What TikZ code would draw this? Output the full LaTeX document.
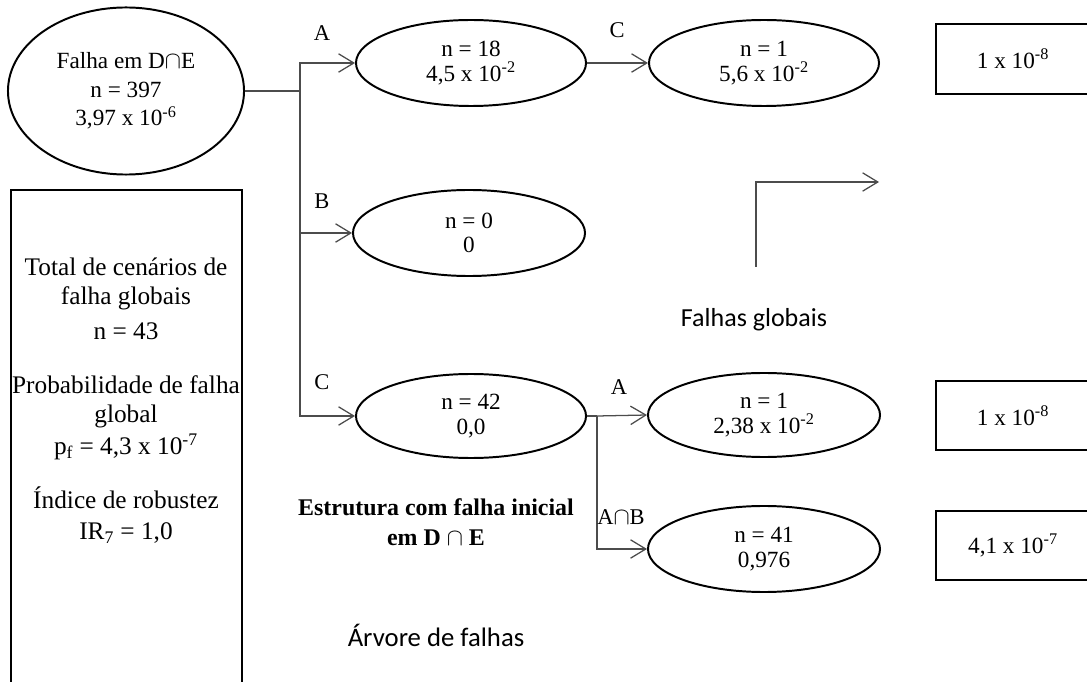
\documentclass[tikz,border=0pt]{standalone}
\usepackage{fontspec}
\setmainfont{Liberation Serif}
\newfontfamily\calibri{Carlito}
\usepackage{tikz}
\usetikzlibrary{shapes.geometric,arrows.meta}
\tikzset{
	falha/.style={ellipse, draw, line width=1.4pt, inner sep=0pt, align=center, font=\fontsize{16.5}{17.4}\selectfont},
	caixa/.style={rectangle, draw, line width=1.4pt, inner sep=0pt, minimum width=3.85cm, font=\fontsize{16.5}{17.4}\selectfont},
	liga/.style={draw=black!70, line width=0.9pt, -{Straight Barb[length=3.8mm,width=4.6mm]}},
	rot/.style={font=\fontsize{16}{18}\selectfont, inner sep=0pt},
}

\begin{document}
\begin{tikzpicture}[x=0.025cm, y=-0.025cm]
			%%%%% START %%%%%
			\useasboundingbox (0, 0) rectangle (1087, 682);
			
			\node[falha, minimum width=5.9cm, minimum height=4.175cm] (raiz) at (126, 91) {Falha em D$\cap$E\\[3pt]n = 397\\[3pt]3,97 x 10\textsuperscript{-6}};
			
			\node[falha, minimum width=5.75cm, minimum height=2.15cm] (nA) at (471, 63) {n = 18\\4,5 x 10\textsuperscript{-2}};
			\node[falha, minimum width=5.75cm, minimum height=2.15cm] (nAC) at (764, 63) {n = 1\\5,6 x 10\textsuperscript{-2}};
			\node[falha, minimum width=5.8cm, minimum height=2.15cm] (nB) at (469, 233) {n = 0\\0};
			\node[falha, minimum width=5.75cm, minimum height=2.1cm] (nC) at (471, 416) {n = 42\\0,0};
			\node[falha, minimum width=5.8cm, minimum height=2.1cm] (nCA) at (764, 415) {n = 1\\2,38 x 10\textsuperscript{-2}};
			\node[falha, minimum width=5.8cm, minimum height=2.15cm] (nCAB) at (764, 549) {n = 41\\0,976};
			
			\node[caixa, minimum height=1.75cm] (pAC) at (1013, 59) {1 x 10\textsuperscript{-8}};
			\node[caixa, minimum height=1.725cm] (pCA) at (1013, 415.5) {1 x 10\textsuperscript{-8}};
			\node[caixa, minimum height=1.725cm] (pCAB) at (1013, 545.5) {4,1 x 10\textsuperscript{-7}};
			
			% ramos da arvore
			\coordinate (j1) at (300, 91);
			\coordinate (j2) at (597, 416);
			\draw[draw=black!70, line width=0.9pt] (raiz.east) -- (j1);
			\draw[liga] (j1) |- (nA.west);
			\draw[liga] (j1) |- (nB.west);
			\draw[liga] (j1) |- (nC.west);
			\draw[liga] (nA.east) -- (nAC.west);
			\draw[draw=black!70, line width=0.9pt] (nC.east) -- (j2);
			\draw[liga] (j2) -- (nCA.west);
			\draw[liga] (j2) |- (nCAB.west);
			
			\node[rot] (lA) at (322, 33) {A};
			\node[rot] (lB) at (322, 201) {B};
			\node[rot] (lC) at (322, 382) {C};
			\node[rot] (lAC) at (617, 30) {C};
			\node[rot] (lCA) at (619, 387) {A};
			\node[rot] (lCAB) at (621, 517) {A$\cap$B};
			
			% painel de resumo
			\node[draw, line width=1.4pt, minimum width=5.775cm, minimum height=12.75cm, inner sep=0pt] (painel) at (126.5, 445) {};
			\node[align=center, font=\fontsize{18}{20.6}\selectfont] (resumo) at (126, 401) {Total de cenários de\\falha globais\\[4pt]n = 43\\[18pt]Probabilidade de falha\\global\\[2pt]p\textsubscript{f} = 4,3 x 10\textsuperscript{-7}\\[18pt]Índice de robustez\\[1.5pt]IR\textsubscript{7} = 1,0};
			
			\node[align=center, font=\bfseries\fontsize{17}{21}\selectfont] (titulo) at (436, 522) {Estrutura com falha inicial\\em D $\cap$ E};
			
			% legenda
			\coordinate (gini) at (756, 267);
			\coordinate (gfim) at (879, 182);
			\draw[liga] (gini) |- (gfim);
			\node[font=\calibri\fontsize{18.5}{22}\selectfont] (globais) at (754, 320) {Falhas globais};
			\node[font=\calibri\fontsize{19}{22}\selectfont] (arvore) at (436, 635) {Árvore de falhas};
			
			%%%%% END %%%%%
		\end{tikzpicture}
\end{document}
